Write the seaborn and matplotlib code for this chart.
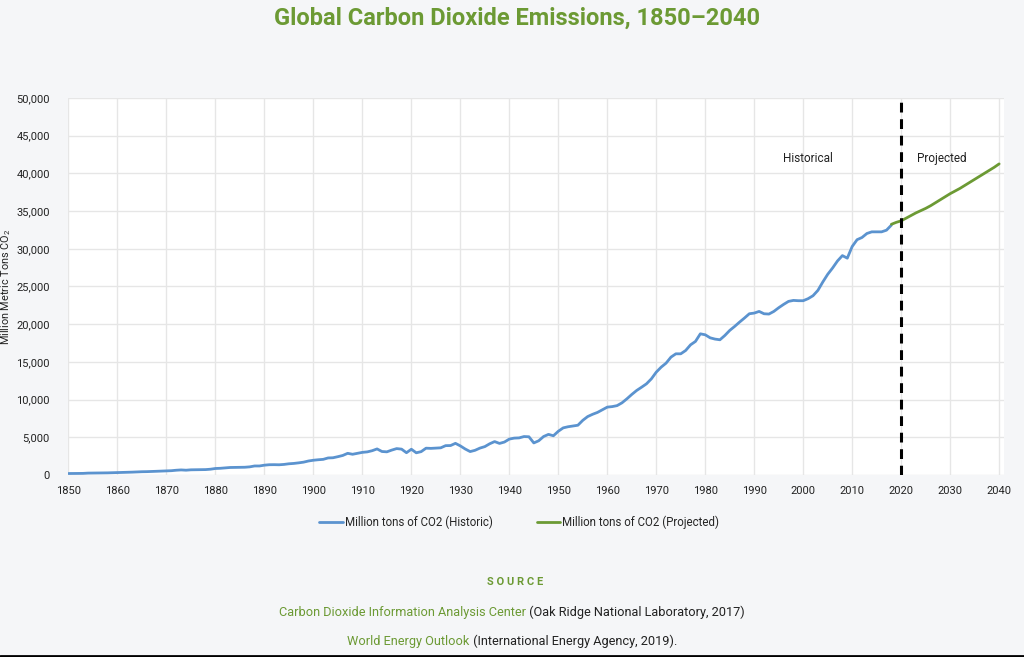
import numpy as np
import pandas as pd
import matplotlib
matplotlib.use("Agg")
import matplotlib.pyplot as plt
from matplotlib.lines import Line2D
import seaborn as sns

# ---- datos ------------------------------------------------------------------

anios_hist = list(range(1850, 2019))
co2_hist = [
    # 1850-1899
    198, 198, 209, 216, 253, 260, 279, 282, 286, 304,
    334, 348, 356, 381, 411, 436, 447, 477, 495, 521,
    539, 572, 634, 675, 638, 689, 700, 711, 719, 770,
    865, 891, 939, 997, 1008, 1016, 1030, 1082, 1199, 1199,
    1305, 1364, 1371, 1357, 1404, 1489, 1536, 1613, 1705, 1859,
    # 1900-1949
    1958, 2024, 2075, 2262, 2288, 2431, 2593, 2875, 2750, 2879,
    3003, 3066, 3223, 3458, 3117, 3073, 3304, 3502, 3432, 2956,
    3418, 2945, 3099, 3557, 3531, 3575, 3605, 3894, 3905, 4199,
    3861, 3447, 3106, 3275, 3568, 3766, 4144, 4433, 4188, 4371,
    4763, 4892, 4921, 5101, 5071, 4254, 4540, 5104, 5387, 5203,
    # 1950-1999
    5800, 6250, 6400, 6500, 6600, 7250, 7750, 8050, 8300, 8650,
    9000, 9070, 9200, 9570, 10100, 10680, 11210, 11640, 12090, 12750,
    13640, 14300, 14830, 15630, 16070, 16070, 16510, 17260, 17710, 18720,
    18590, 18190, 18020, 17930, 18500, 19170, 19700, 20270, 20810, 21380,
    21470, 21690, 21380, 21340, 21690, 22180, 22620, 23020, 23150, 23110,
    # 2000-2018
    23110, 23380, 23770, 24480, 25590, 26610, 27450, 28380, 29090, 28750,
    30300, 31200, 31490, 32020, 32240, 32240, 32240, 32460, 33130,
]

anios_proy = list(range(2018, 2041))
co2_proy = [
    33240, 33500, 33700, 34050, 34400, 34750, 35050, 35350, 35700, 36100,
    36500, 36900, 37300, 37650, 38000, 38400, 38800, 39200, 39600, 40000,
    40400, 40800, 41250,
]

serie_hist = "Million tons of CO2 (Historic)"
serie_proy = "Million tons of CO2 (Projected)"

anios_ticks = list(range(1850, 2041, 10))
valores_ticks_y = list(range(0, 50001, 5000))

# ---- estilo -----------------------------------------------------------------

AZUL = "#5b93cf"
VERDE = "#6c9a34"
FONDO = "#f5f6f8"
TINTA = "#222222"

sns.set_style("whitegrid")
plt.rcParams["font.family"] = ["Roboto", "DejaVu Sans"]
plt.rcParams["mathtext.fontset"] = "custom"
plt.rcParams["mathtext.rm"] = "Roboto"
plt.rcParams["mathtext.it"] = "Roboto"

df = pd.concat([
    pd.DataFrame({"anio": anios_hist, "co2": co2_hist, "serie": serie_hist}),
    pd.DataFrame({"anio": anios_proy, "co2": co2_proy, "serie": serie_proy}),
], ignore_index=True)

fig = plt.figure(figsize=(10.24, 6.57), dpi=100, facecolor=FONDO)
ax = fig.add_axes([0.0664, 0.277, 0.9141, 0.574])
ax.set_facecolor("white")

sns.lineplot(data=df, x="anio", y="co2", hue="serie",
             palette={serie_hist: AZUL, serie_proy: VERDE},
             linewidth=2.0, ax=ax, legend=False)

ax.axvline(2020, color="black", linestyle=(0, (3.2, 2.2)), linewidth=2.2, zorder=5)
ax.text(2001, 41900, "Historical", ha="center", va="center", fontsize=8.5, color=TINTA)
ax.text(2028.2, 41900, "Projected", ha="center", va="center", fontsize=8.5, color=TINTA)

ax.set_xlim(1849.9, 2041)
ax.set_ylim(0, 50000)
ax.set_xticks(anios_ticks)
ax.set_yticks(valores_ticks_y)
ax.set_yticklabels([f"{v:,}" for v in valores_ticks_y])
ax.tick_params(axis="both", labelsize=8, colors=TINTA, length=0)
ax.tick_params(axis="y", pad=13)
ax.tick_params(axis="x", pad=8)
ax.set_xlabel("")
ax.set_ylabel("Million Metric Tons CO$_\\mathrm{2}$", fontsize=7.8, color=TINTA)
ax.yaxis.set_label_coords(-0.059, 0.5)
ax.grid(True, color="#e6e6e6", linewidth=1.0)
for lado in ax.spines.values():
    lado.set_visible(False)

manejadores = [Line2D([], [], color=AZUL, linewidth=2), Line2D([], [], color=VERDE, linewidth=2)]
fig.legend(manejadores, [serie_hist, serie_proy], loc="center", bbox_to_anchor=(0.507, 0.205),
           ncol=2, frameon=False, fontsize=8.3, handlelength=2.0, handletextpad=0.2,
           columnspacing=3.8)

# ---- titulo y fuentes -------------------------------------------------------

fig.text(0.505, 0.972, "Global Carbon Dioxide Emissions, 1850\u20132040", ha="center", va="center",
         fontsize=17, fontweight="bold", color=VERDE)
fig.text(0.503, 0.114, "S O U R C E", ha="center", va="center", fontsize=8,
         fontweight="bold", color=VERDE)


def texto_dos_colores(y, parte_verde, parte_negra, tam=9.2):
    fig.canvas.draw()
    rend = fig.canvas.get_renderer()
    t1 = fig.text(0, y, parte_verde, fontsize=tam, color=VERDE, va="center")
    t2 = fig.text(0, y, parte_negra, fontsize=tam, color=TINTA, va="center")
    w1 = t1.get_window_extent(rend).width / fig.bbox.width
    w2 = t2.get_window_extent(rend).width / fig.bbox.width
    x0 = 0.5 - (w1 + w2) / 2
    t1.set_x(x0)
    t2.set_x(x0 + w1)


texto_dos_colores(0.068, "Carbon Dioxide Information Analysis Center",
                  " (Oak Ridge National Laboratory, 2017)")
texto_dos_colores(0.024, "World Energy Outlook", " (International Energy Agency, 2019).")

fig.add_artist(Line2D([0, 1], [0.002, 0.002], color="black", linewidth=2, transform=fig.transFigure))

fig.savefig("out.png", dpi=100, facecolor=FONDO)
